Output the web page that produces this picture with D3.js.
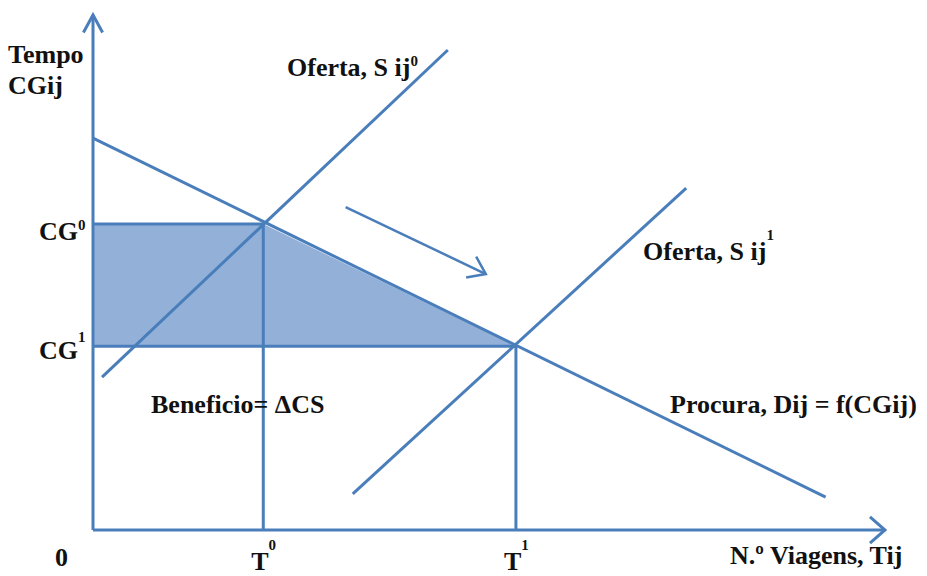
<!DOCTYPE html>
<html>
<head>
<meta charset="utf-8">
<script src="https://cdn.jsdelivr.net/npm/d3@7"></script>
<style>
  html, body { margin: 0; padding: 0; background: #fff; }
  svg { display: block; }
</style>
</head>
<body>
<svg id="chart" width="927" height="576"></svg>
<script>
// Axis extent (model units)
const axisMax = { x: 10, y: 10 };

// Equilibrium levels
const quantities = [2.15, 5.34];   // T0, T1
const costs = [5.94, 3.57];        // CG0, CG1

// Demand curve (Procura) endpoints
const demand = [[0, 7.61], [9.25, 0.64]];
// Supply curves (Oferta) before and after the improvement
const supply0 = [[0.114, 2.97], [4.48, 9.32]];
const supply1 = [[3.28, 0.70], [7.49, 6.64]];
// Shift arrow between supply curves
const shiftArrow = [[3.19, 6.27], [4.96, 4.97]];

// Tick labels
const costLabels = ["CG", "CG"];
const costSups = ["0", "1"];
const qtyLabels = ["T", "T"];
const qtySups = ["0", "1"];

const blue = "#4a7ebb";
const fillBlue = "#93b1d8";
const serif = "'Liberation Serif', 'Times New Roman', serif";

const svg = d3.select("#chart");
const x = d3.scaleLinear().domain([0, axisMax.x]).range([93, 885]);
const y = d3.scaleLinear().domain([0, axisMax.y]).range([530, 15]);

const line = d3.line().x(d => x(d[0])).y(d => y(d[1]));

// Consumer surplus gain (shaded trapezoid)
svg.append("path")
  .attr("d", line([[0, costs[0]], [quantities[0], costs[0]], [quantities[1], costs[1]], [0, costs[1]]]) + "Z")
  .attr("fill", fillBlue);

const g = svg.append("g")
  .attr("fill", "none")
  .attr("stroke", blue)
  .attr("stroke-width", 3)
  .attr("stroke-linecap", "butt");

// Axes
g.append("path").attr("d", line([[0, 0], [0, axisMax.y]]));
g.append("path").attr("d", line([[0, 0], [axisMax.x, 0]]));

// Open arrowheads (chevrons) at a given tip, pointing along angle
function chevron(tip, angle, len, spread) {
  const [tx, ty] = tip;
  const a1 = angle + Math.PI - spread, a2 = angle + Math.PI + spread;
  return `M${tx + len * Math.cos(a1)},${ty + len * Math.sin(a1)}L${tx},${ty}L${tx + len * Math.cos(a2)},${ty + len * Math.sin(a2)}`;
}
g.append("path").attr("d", chevron([x(0), y(axisMax.y)], -Math.PI / 2, 20, 0.5));
g.append("path").attr("d", chevron([x(axisMax.x), y(0)], 0, 20, 0.72));

// Equilibrium guides
quantities.forEach((q, i) => {
  g.append("path").attr("d", line([[q, 0], [q, costs[i]]]));
  g.append("path").attr("d", line([[0, costs[i]], [q, costs[i]]]));
});

// Curves
g.append("path").attr("d", line(demand));
g.append("path").attr("d", line(supply0));
g.append("path").attr("d", line(supply1));

// Shift arrow
g.append("path").attr("d", line(shiftArrow)).attr("stroke-width", 2.5);
const sa = shiftArrow.map(d => [x(d[0]), y(d[1])]);
const ang = Math.atan2(sa[1][1] - sa[0][1], sa[1][0] - sa[0][0]);
g.append("path").attr("d", chevron(sa[1], ang, 20, 0.62)).attr("stroke-width", 2.5);

// Labels
const fs = 26, sfs = 15;
function label(txt, px, py, sup, supDy) {
  const t = svg.append("text").attr("x", px).attr("y", py)
    .attr("font-family", serif).attr("font-weight", "bold")
    .attr("font-size", fs).attr("fill", "#111").text(txt);
  if (sup !== undefined) {
    t.append("tspan").attr("font-size", sfs).attr("dy", supDy).text(sup);
  }
  return t;
}

label("Tempo", 8, 63);
label("CGij", 8, 94);
label("Oferta, S ij", 287, 76, "0", -10);
label("Oferta, S ij", 643, 260, "1", -20);
label("Procura, Dij = f(CGij)", 670, 413);
label("Beneficio= \u0394CS", 151, 413);
label("N.\u00ba Viagens, Tij", 730, 564);
label("0", 55, 566);

const costDy = [16, 13];
const costSupDy = [-10, -17];
costs.forEach((c, i) => {
  label(costLabels[i], 39, y(c) + costDy[i], costSups[i], costSupDy[i]);
});
quantities.forEach((q, i) => {
  label(qtyLabels[i], x(q) - 12, 570, qtySups[i], -20);
});
</script>
</body>
</html>
